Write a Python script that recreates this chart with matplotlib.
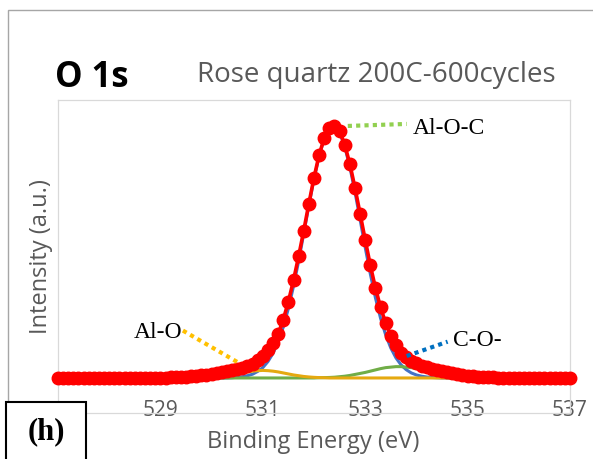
import numpy as np
import matplotlib
matplotlib.use("Agg")
import matplotlib.pyplot as plt
from matplotlib.patches import Rectangle

# binding energy channels, 0.1 eV step
energy = np.round(np.arange(527.0, 537.05, 0.1), 1)

# measured O 1s envelope (normalised intensity)
measured = [0.0] * 21 + [
    0.001, 0.002, 0.003, 0.004, 0.005, 0.007, 0.009, 0.011, 0.013,
    0.016, 0.019, 0.022, 0.026, 0.030, 0.035, 0.041, 0.048, 0.057, 0.070,
    0.088, 0.110, 0.138, 0.175, 0.232, 0.303, 0.388, 0.483, 0.585, 0.692,
    0.795, 0.885, 0.952, 0.992, 1.000, 0.979, 0.926, 0.849, 0.755, 0.652,
    0.548, 0.447, 0.357, 0.280, 0.218, 0.168, 0.132, 0.100, 0.083, 0.069,
    0.058, 0.049, 0.042, 0.036, 0.031, 0.026, 0.022, 0.018, 0.015, 0.012,
    0.009, 0.007, 0.005, 0.004, 0.003, 0.002, 0.001] + [0.0] * 14

# fitted components
al_o_c = [0.0] * 34 + [
    0.001, 0.003, 0.005, 0.009, 0.015, 0.026,
    0.041, 0.065, 0.098, 0.143, 0.202, 0.276, 0.364, 0.464, 0.573, 0.684,
    0.789, 0.880, 0.950, 0.991, 0.999, 0.974, 0.918, 0.837, 0.738, 0.629,
    0.518, 0.413, 0.318, 0.237, 0.171, 0.119, 0.080, 0.052, 0.033, 0.020,
    0.012, 0.007, 0.004, 0.002, 0.001] + [0.0] * 26

al_o = [0.0] * 28 + [
    0.001, 0.0015,
    0.0025, 0.004, 0.006, 0.009, 0.012, 0.016, 0.020, 0.024, 0.027, 0.029,
    0.030, 0.029, 0.027, 0.024, 0.020, 0.016, 0.012, 0.009, 0.006, 0.004,
    0.0025, 0.0015, 0.001] + [0.0] * 48

c_o = [0.0] * 51 + [
    0.001, 0.0014, 0.002, 0.003, 0.005, 0.007, 0.010, 0.014, 0.018,
    0.022, 0.027, 0.032, 0.037, 0.041, 0.043, 0.045, 0.045, 0.043, 0.041,
    0.037, 0.032, 0.027, 0.022, 0.018, 0.014, 0.010, 0.007, 0.005, 0.003,
    0.002, 0.0014, 0.001] + [0.0] * 18

xticks = [529, 531, 533, 535, 537]

W, H = 593, 459
fig = plt.figure(figsize=(W / 100, H / 100), dpi=100)
sans = "Open Sans"
serif = "Liberation Serif"
grey = "#595959"

# plot area in pixel terms: left 58, right 570, top 100, bottom 413
ax = fig.add_axes([58 / W, 1 - 413 / H, 512 / W, 313 / H])
ax.set_xlim(527, 537)
ax.set_ylim(-0.139, 1.103)

ax.plot(energy, al_o_c, color="#4472C4", lw=2.2, zorder=2)
ax.plot(energy, c_o, color="#70AD47", lw=2.2, zorder=3)
ax.plot(energy, al_o, color="#E5A910", lw=2.2, zorder=3)
ax.plot(energy, measured, color="#FF0000", lw=2.6, marker="o", ms=9,
        mec="#FF0000", mfc="#FF0000", zorder=5, clip_on=False)

for s in ax.spines.values():
    s.set_color("#D9D9D9")
    s.set_linewidth(0.9)
ax.set_yticks([])
ax.set_xticks(xticks)
ax.tick_params(axis="x", length=0, pad=-9, labelsize=15, labelcolor=grey)
for lab in ax.get_xticklabels():
    lab.set_fontfamily(sans)

# peak labels with dotted leader lines
lead = dict(lw=3, linestyle=(0, (1, 1)), dash_capstyle="butt", zorder=6)
ax.plot([532.66, 533.81], [1.0, 1.008], color="#92D050", **lead)
ax.text(533.93, 0.99, "Al-O-C", family=serif, fontsize=17, va="center",
        ha="left", zorder=7)
ax.plot([529.44, 530.53], [0.188, 0.06], color="#FFC000", **lead)
ax.text(529.42, 0.179, "Al-O", family=serif, fontsize=17, va="center",
        ha="right", zorder=7)
ax.plot([533.81, 534.61], [0.087, 0.144], color="#0070C0", **lead)
ax.text(534.71, 0.147, "C-O-", family=serif, fontsize=17, va="center",
        ha="left", zorder=7)

fig.text(55 / W, 1 - 87 / H, "O 1s", family=sans, fontweight="bold",
         fontsize=25, color="black", va="baseline")
fig.text(197 / W, 1 - 82 / H, "Rose quartz 200C-600cycles", family=sans,
         fontsize=20, color=grey, va="baseline")
fig.text(313.5 / W, 1 - 448 / H, "Binding Energy (eV)", family=sans,
         fontsize=17, color=grey, ha="center", va="baseline")
fig.text(41 / W, 1 - 257 / H, "Intensity (a.u.)", family=sans,
         fontsize=17, color=grey, rotation=90, ha="center", va="center")

# outer chart frame
fig.add_artist(Rectangle((8 / W, -0.2), 2, 1.2 - 10 / H, fill=False,
                         edgecolor="#A6A6A6", lw=1,
                         transform=fig.transFigure, zorder=1))
# panel letter box
fig.add_artist(Rectangle((6 / W, -0.1), 80 / W, 0.1 + (459 - 402) / H,
                         facecolor="white", edgecolor="black", lw=1.5,
                         transform=fig.transFigure, zorder=10))
fig.text(46 / W, 1 - 432 / H, "(h)", family=serif, fontweight="bold",
         fontsize=22, ha="center", va="center", zorder=11)

fig.savefig("out.png", dpi=100)
